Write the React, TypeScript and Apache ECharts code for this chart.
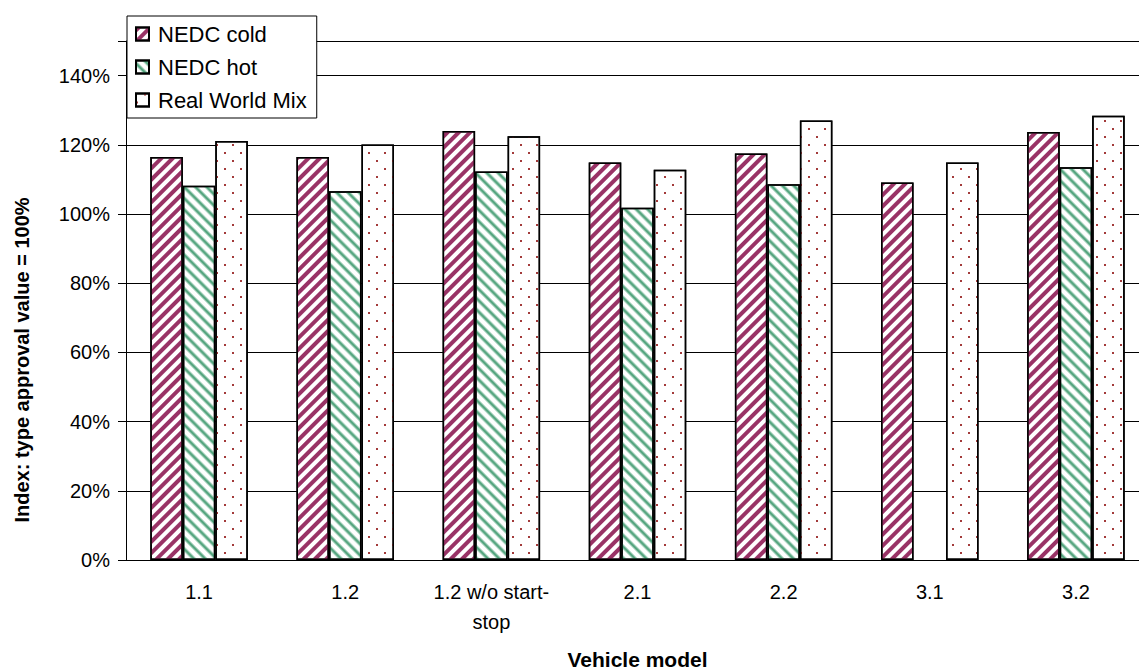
import React, { useEffect, useRef } from "react";
import * as echarts from "echarts";

const categories = ["1.1", "1.2", "1.2 w/o start-stop", "2.1", "2.2", "3.1", "3.2"];
const nedcCold = [116.5, 116.5, 124.0, 114.9, 117.5, 109.1, 123.7];
const nedcHot = [108.2, 106.6, 112.3, 101.8, 108.6, null, 113.5];
const realWorldMix = [121.1, 120.1, 122.5, 112.8, 127.0, 114.9, 128.4];
const seriesNames = ["NEDC cold", "NEDC hot", "Real World Mix"];
const yTicks = { min: 0, max: 150, interval: 20 };

const FONT = "'Liberation Sans', Arial, sans-serif";

export default function App() {
  const ref = useRef<HTMLDivElement>(null);
  useEffect(() => {
    if (!ref.current) return;
    const chart = echarts.init(ref.current, undefined, { renderer: "svg" });
    const stripeCold = {
      symbol: "rect",
      color: "#993366",
      dashArrayX: [1, 0],
      dashArrayY: [3.2, 3.3],
      rotation: -Math.PI / 4,
    };
    const stripeHot = {
      symbol: "rect",
      color: "#2b9060",
      dashArrayX: [1, 0],
      dashArrayY: [3.4, 3.1],
      rotation: Math.PI / 4,
    };
    const dots = {
      symbol: "rect",
      color: "#a33a3a",
      symbolSize: 1,
      dashArrayX: [
        [2, 13.5],
        [0, 7.75, 2, 5.75],
      ],
      dashArrayY: [2, 5.7],
      rotation: 0,
    };
    const mk = (name: string, data: (number | null)[], decal: any) => ({
      name,
      type: "bar",
      data,
      barWidth: 32.5,
      barGap: "0%",
      itemStyle: {
        color: "#ffffff",
        borderColor: "#000000",
        borderWidth: 1.5,
        decal,
      },
    });
    chart.setOption({
      animation: false,
      aria: { enabled: true, decal: { show: true } },
      textStyle: { fontFamily: FONT },
      grid: {
        left: 126,
        right: 0,
        top: 41,
        bottom: 111,
        containLabel: false,
        outerBoundsMode: "none",
      },
      legend: {
        orient: "vertical",
        left: 127,
        top: 16,
        padding: [7, 10, 7, 8],
        itemGap: 11,
        itemWidth: 13,
        itemHeight: 13,
        icon: "rect",
        backgroundColor: "#ffffff",
        borderColor: "#000000",
        borderWidth: 1,
        textStyle: { fontFamily: FONT, fontSize: 22, color: "#000", padding: [0, 0, 0, 4] },
        data: seriesNames,
      },
      xAxis: {
        type: "category",
        data: categories,
        name: "Vehicle model",
        nameLocation: "middle",
        nameGap: 89,
        nameTextStyle: { fontFamily: FONT, fontSize: 21, fontWeight: "bold", color: "#000" },
        axisLine: { lineStyle: { color: "#000", width: 1 } },
        axisTick: { length: 7, lineStyle: { color: "#000" } },
        axisLabel: {
          interval: 0,
          margin: 17,
          fontFamily: FONT,
          fontSize: 20,
          color: "#000",
          lineHeight: 30,
          formatter: (v: string) => v.replace("start-stop", "start-\nstop"),
        },
      },
      yAxis: {
        type: "value",
        min: yTicks.min,
        max: yTicks.max,
        interval: yTicks.interval,
        axisLine: { show: true, lineStyle: { color: "#000", width: 1 } },
        axisTick: { show: true, length: 8, lineStyle: { color: "#000" } },
        axisLabel: {
          margin: 16,
          fontFamily: FONT,
          fontSize: 20,
          color: "#000",
          formatter: (v: number) => (v === 150 ? "" : v + "%"),
        },
        splitLine: { show: true, lineStyle: { color: "#000", width: 1 } },
      },
      graphic: [
        {
          type: "text",
          x: 22,
          y: 360,
          rotation: Math.PI / 2,
          style: {
            text: "Index: type approval value = 100%",
            fontFamily: FONT,
            fontSize: 20,
            fontWeight: "bold",
            fill: "#000",
            align: "center",
            verticalAlign: "middle",
          },
        },
      ],
      series: [
        mk(seriesNames[0], nedcCold, stripeCold),
        mk(seriesNames[1], nedcHot, stripeHot),
        mk(seriesNames[2], realWorldMix, dots),
      ],
    });
    return () => chart.dispose();
  }, []);
  return (
    <div style={{ position: "absolute", left: 0, top: 0, width: 1139, height: 671, overflow: "hidden" }}>
      <div ref={ref} style={{ width: 1149, height: 671 }} />
    </div>
  );
}
